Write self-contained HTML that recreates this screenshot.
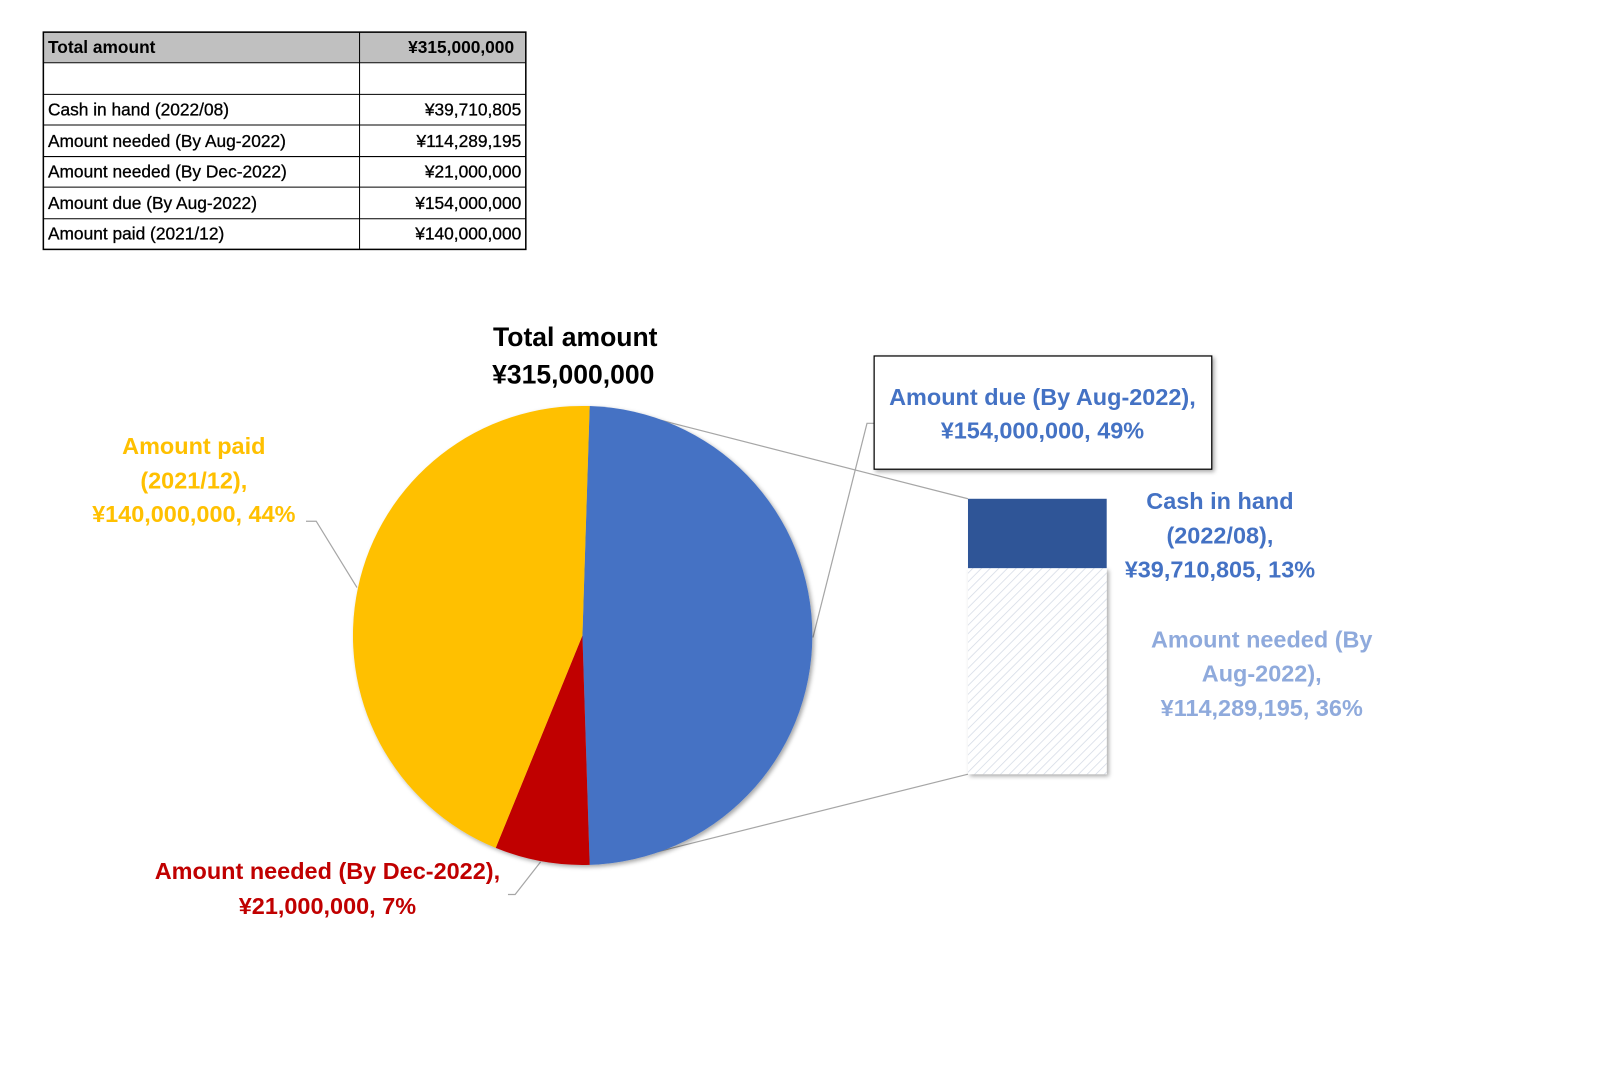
<!DOCTYPE html>
<html><head><meta charset="utf-8"><style>
html,body{margin:0;padding:0;background:#fff;width:1600px;height:1088px;overflow:hidden}
svg text{font-family:"Liberation Sans","Noto Sans CJK JP",sans-serif}
</style></head><body>
<svg width="1600" height="1088" viewBox="0 0 1600 1088" xmlns="http://www.w3.org/2000/svg">
<defs>
<pattern id="h" width="6" height="6" patternUnits="userSpaceOnUse" patternTransform="rotate(45)">
<rect width="6" height="6" fill="#fff"/><line x1="0" y1="0" x2="0" y2="6" stroke="#d5dbe6" stroke-width="1.5"/>
</pattern>
<filter id="sh" x="-10%" y="-10%" width="130%" height="130%"><feDropShadow dx="2" dy="2" stdDeviation="2" flood-color="#000" flood-opacity="0.35"/></filter>
</defs>
<g transform="scale(1.02)">
<!-- table -->
<rect x="42" y="31" width="473" height="30" fill="#c0c0c0"/>
<g stroke="#000" stroke-width="1" fill="none">
<rect x="42.5" y="31.5" width="473" height="213" stroke-width="1.5"/>
<line x1="352.5" y1="31" x2="352.5" y2="244"/>
<line x1="42" y1="61.5" x2="515" y2="61.5"/>
<line x1="42" y1="92.5" x2="515" y2="92.5"/>
<line x1="42" y1="122.5" x2="515" y2="122.5"/>
<line x1="42" y1="153.5" x2="515" y2="153.5"/>
<line x1="42" y1="183.5" x2="515" y2="183.5"/>
<line x1="42" y1="214.5" x2="515" y2="214.5"/>
</g>
<g font-size="17" fill="#000" font-weight="bold">
<text x="47" y="52">Total amount</text><text x="504" y="52" text-anchor="end">¥315,000,000</text>
</g>
<g font-size="17" fill="#000" stroke="#000" stroke-width="0.3">
<text x="47" y="113">Cash in hand (2022/08)</text><text x="511" y="113" text-anchor="end">¥39,710,805</text>
<text x="47" y="144">Amount needed (By Aug-2022)</text><text x="511" y="144" text-anchor="end">¥114,289,195</text>
<text x="47" y="174">Amount needed (By Dec-2022)</text><text x="511" y="174" text-anchor="end">¥21,000,000</text>
<text x="47" y="205">Amount due (By Aug-2022)</text><text x="511" y="205" text-anchor="end">¥154,000,000</text>
<text x="47" y="235">Amount paid (2021/12)</text><text x="511" y="235" text-anchor="end">¥140,000,000</text>
</g>
<!-- title -->
<g font-size="26" font-weight="bold" fill="#000" text-anchor="middle">
<text x="564" y="339">Total amount</text><text x="562" y="376">¥315,000,000</text>
</g>
<!-- connector lines -->
<g stroke="#a6a6a6" stroke-width="1.2" fill="none">
<line x1="640" y1="410" x2="949" y2="489"/>
<line x1="645" y1="835" x2="949" y2="759"/>
<polyline points="857,415 850,415 797,625"/>
<polyline points="300,511 310,511 350,576"/>
<polyline points="498,877 505,877 530,845"/>
</g>
<!-- pie -->
<g filter="url(#sh)">
<path d="M571,623 L578.1,398.1 A225,225 0 0 1 578.1,847.9 Z" fill="#4472c4"/>
<path d="M571,623 L578.1,847.9 A225,225 0 0 1 486,831.3 Z" fill="#c00000"/>
<path d="M571,623 L486,831.3 A225,225 0 0 1 578.1,398.1 Z" fill="#ffc000"/>
</g>
<!-- bar -->
<rect x="949" y="557" width="136" height="202" fill="url(#h)" filter="url(#sh)"/>
<rect x="949" y="489" width="136" height="68" fill="#2f5597"/>
<!-- label box -->
<rect x="857" y="349" width="331" height="111" fill="#fff" stroke="#000" stroke-width="1.2" filter="url(#sh)"/>
<g font-size="23" font-weight="bold" text-anchor="middle">
<text x="1022" y="397" fill="#4472c4">Amount due (By Aug-2022),</text>
<text x="1022" y="430" fill="#4472c4">¥154,000,000, 49%</text>
<text x="1196" y="499" fill="#4472c4">Cash in hand</text>
<text x="1196" y="533" fill="#4472c4">(2022/08),</text>
<text x="1196" y="566" fill="#4472c4">¥39,710,805, 13%</text>
<text x="1237" y="635" fill="#8faadc">Amount needed (By</text>
<text x="1237" y="668" fill="#8faadc">Aug-2022),</text>
<text x="1237" y="702" fill="#8faadc">¥114,289,195, 36%</text>
<text x="190" y="445" fill="#ffc000">Amount paid</text>
<text x="190" y="479" fill="#ffc000">(2021/12),</text>
<text x="190" y="512" fill="#ffc000">¥140,000,000, 44%</text>
<text x="321" y="862" fill="#c00000">Amount needed (By Dec-2022),</text>
<text x="321" y="896" fill="#c00000">¥21,000,000, 7%</text>
</g>
</g>
</svg>
</body></html>
